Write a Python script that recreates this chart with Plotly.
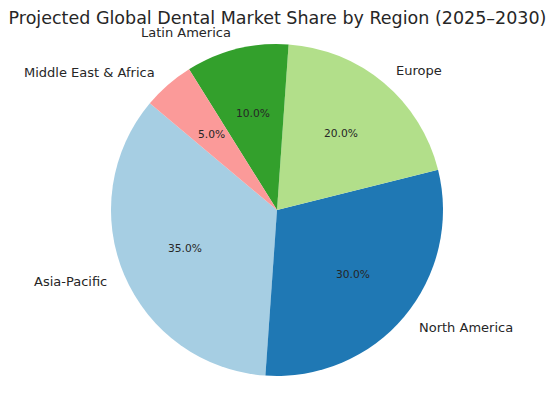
import math
import plotly.graph_objects as go

labels = ["Asia-Pacific", "North America", "Europe", "Latin America", "Middle East & Africa"]
shares = [35, 30, 20, 10, 5]
colors = ["#a6cee3", "#1f78b4", "#b2df8a", "#33a02c", "#fb9a99"]
title_text = "Projected Global Dental Market Share by Region (2025–2030)"

W, H = 555, 400
cx, cy, R = 277, 210, 166
start_angle = 140  # degrees, counterclockwise from 3 o'clock

total = sum(shares)
first_span = 360 * shares[0] / total

fig = go.Figure()
fig.add_trace(go.Pie(
    labels=labels, values=shares, sort=False, direction="counterclockwise",
    rotation=90 - (start_angle + first_span),
    marker=dict(colors=colors, line=dict(width=0)),
    textinfo="none", hoverinfo="skip", showlegend=False,
    domain=dict(x=[(cx - R) / W, (cx + R) / W], y=[1 - (cy + R) / H, 1 - (cy - R) / H]),
))

annotations = []
theta = start_angle
for lab, v in zip(labels, shares):
    span = 360 * v / total
    mid = math.radians(theta + span / 2)
    theta += span
    cs, sn = math.cos(mid), math.sin(mid)
    lx, ly = cx + 1.1 * R * cs, cy - 1.1 * R * sn
    annotations.append(dict(
        x=lx / W, y=1 - ly / H, xref="paper", yref="paper", text=lab, showarrow=False,
        xanchor="left" if cs > 0 else "right", yanchor="middle",
        font=dict(family="DejaVu Sans", size=13, color="#262626"),
    ))
    px, py = cx + 0.6 * R * cs, cy - 0.6 * R * sn
    annotations.append(dict(
        x=px / W, y=1 - py / H, xref="paper", yref="paper", text=f"{100 * v / total:.1f}%",
        showarrow=False, xanchor="center", yanchor="middle",
        font=dict(family="DejaVu Sans", size=10.7, color="#262626"),
    ))

fig.update_layout(
    width=W, height=H, margin=dict(l=0, r=0, t=0, b=0),
    paper_bgcolor="white", plot_bgcolor="white",
    title=dict(text=title_text, x=0.5, xanchor="center", y=1 - 17.5 / H, yanchor="middle",
               yref="container", font=dict(family="DejaVu Sans", size=17.5, color="#262626")),
    annotations=annotations,
)

fig.write_html("out.html", config={"displayModeBar": False},
               post_script="document.body.style.margin='0';")
